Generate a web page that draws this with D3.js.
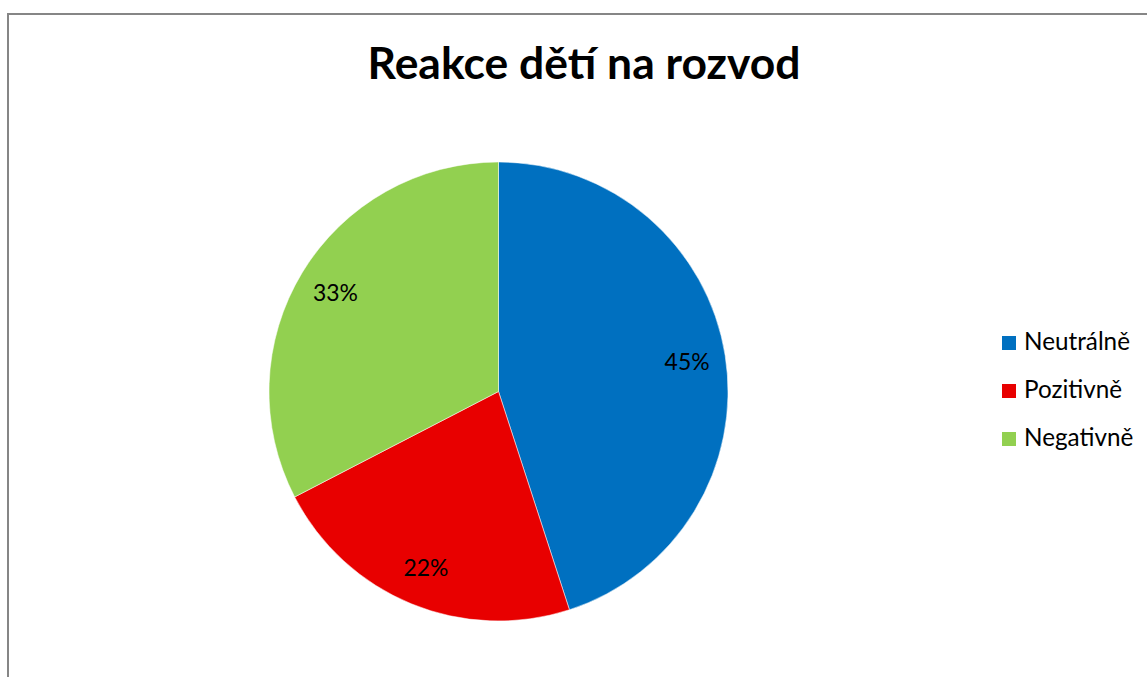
<!DOCTYPE html>
<html>
<head>
<meta charset="utf-8">
<script src="https://cdn.jsdelivr.net/npm/d3@7"></script>
<style>
  html, body { margin: 0; padding: 0; background: #fff; }
  svg { display: block; }
</style>
</head>
<body>
<svg id="chart" width="1147" height="677"></svg>
<script>
const title = "Reakce dětí na rozvod";
const categories = ["Neutrálně", "Pozitivně", "Negativně"];
const values = [45, 22.4, 32.6];
const colors = ["#0070C0", "#E80000", "#92D050"];

const W = 1147, H = 677;
const svg = d3.select("#chart");
const font = "Lato, 'Open Sans', 'Liberation Sans', sans-serif";

// helper: fit font size so that text has a given width
function fit(sel, base, target) {
  const w = sel.node().getComputedTextLength();
  const s = base * target / w;
  sel.attr("font-size", s);
  return s;
}

// chart area border
svg.append("rect")
  .attr("x", 8).attr("y", 14)
  .attr("width", W + 20).attr("height", H + 20)
  .attr("fill", "#fff")
  .attr("stroke", "#868686")
  .attr("stroke-width", 2);

// title
const t = svg.append("text")
  .attr("x", 584).attr("y", 79)
  .attr("text-anchor", "middle")
  .attr("font-family", font)
  .attr("font-weight", "bold")
  .attr("font-size", 40)
  .attr("fill", "#000")
  .text(title);
fit(t, 40, 433);

// pie
const cx = 498.5, cy = 391.5, R = 229.5;
const pie = d3.pie().sort(null).value(d => d)(values);
const arc = d3.arc().innerRadius(0).outerRadius(R);
const labelArc = d3.arc().innerRadius(R * 0.832).outerRadius(R * 0.832);
const total = d3.sum(values);

const g = svg.append("g").attr("transform", `translate(${cx},${cy})`);
g.selectAll("path.slice")
  .data(pie)
  .join("path")
  .attr("class", "slice")
  .attr("d", arc)
  .attr("fill", (d, i) => colors[i])
  .attr("stroke", "#fff")
  .attr("stroke-width", 0.5);

// label font size fitted so "45%" is ~45px wide
const probe = svg.append("text").attr("font-family", font).attr("font-size", 20).text("45%");
const labelSize = fit(probe, 20, 45);
probe.remove();

g.selectAll("text.lbl")
  .data(pie)
  .join("text")
  .attr("class", "lbl")
  .attr("transform", d => `translate(${labelArc.centroid(d)})`)
  .attr("dy", labelSize * 0.36)
  .attr("text-anchor", "middle")
  .attr("font-family", font)
  .attr("font-size", labelSize)
  .attr("fill", "#000")
  .text(d => Math.round(d.data / total * 100) + "%");

// legend
const leg = svg.append("g");
const ly = d3.scalePoint().domain(categories).range([343, 439]);
const probe2 = svg.append("text").attr("font-family", font).attr("font-size", 20).text(categories[0]);
const legSize = fit(probe2, 20, 106);
probe2.remove();
categories.forEach((c, i) => {
  leg.append("rect")
    .attr("x", 1002).attr("y", ly(c) - 7)
    .attr("width", 14).attr("height", 14)
    .attr("fill", colors[i]);
  leg.append("text")
    .attr("x", 1024).attr("y", ly(c) + 7)
    .attr("font-family", font)
    .attr("font-size", legSize)
    .attr("fill", "#000")
    .text(c);
});
</script>
</body>
</html>
